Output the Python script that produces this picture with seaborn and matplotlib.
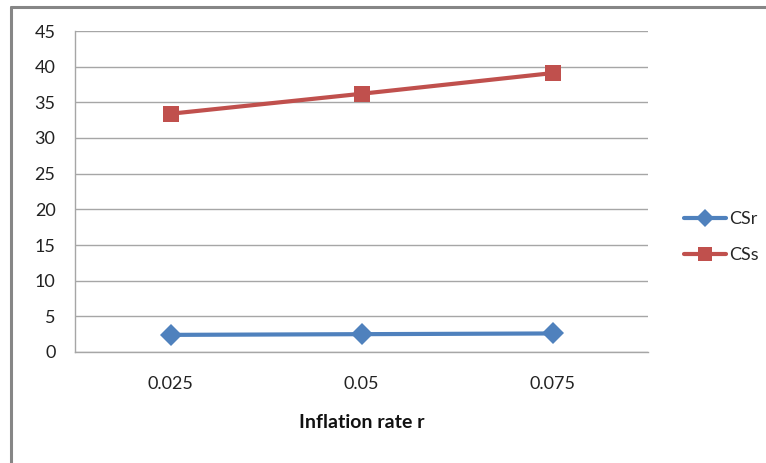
import matplotlib
matplotlib.use("Agg")
import matplotlib.pyplot as plt
from matplotlib.lines import Line2D
import seaborn as sns
import pandas as pd

# Inflation rate categories and the two cost series
rates = ["0.025", "0.05", "0.075"]
csr = [2.4, 2.5, 2.6]
css = [33.4, 36.2, 39.1]
series_names = ["CSr", "CSs"]
y_ticks = [0, 5, 10, 15, 20, 25, 30, 35, 40, 45]

df = pd.DataFrame({
    "pos": list(range(len(rates))) * 2,
    "value": csr + css,
    "series": [series_names[0]] * len(rates) + [series_names[1]] * len(rates),
})

sns.set_style("white")
plt.rcParams["font.family"] = ["Lato", "DejaVu Sans"]

W, H = 766, 463
fig = plt.figure(figsize=(W / 100, H / 100), dpi=100)
ax = fig.add_axes([75 / W, 1 - 352 / H, (648 - 75) / W, (352 - 31) / H])

blue = "#4F81BD"
red = "#C0504D"
grid_c = "#A6A6A6"
text_c = "#222222"

sns.lineplot(data=df, x="pos", y="value", hue="series", style="series",
             markers={"CSr": "D", "CSs": "s"}, dashes=False,
             palette={"CSr": blue, "CSs": red}, markersize=11,
             markeredgewidth=0, linewidth=3, ax=ax, legend=False, zorder=3)

ax.set_xlim(-0.5, len(rates) - 0.5)
ax.set_ylim(0, 45)
ax.set_yticks(y_ticks)
ax.set_yticklabels([str(v) for v in y_ticks], fontsize=13, color=text_c)
ax.set_xticks(range(len(rates)))
ax.set_xticklabels(rates, fontsize=13, color=text_c)
ax.set_xticks([i - 0.5 for i in range(len(rates) + 1)], minor=True)
ax.tick_params(axis="x", which="major", length=0, pad=17)
ax.tick_params(axis="x", which="minor", length=5, width=1, color=grid_c, direction="out")
ax.tick_params(axis="y", length=5, width=1, color=grid_c, direction="out", pad=9)
ax.yaxis.grid(True, color=grid_c, linewidth=1)
ax.set_axisbelow(True)
for s in ["top", "right"]:
    ax.spines[s].set_visible(False)
for s in ["left", "bottom"]:
    ax.spines[s].set_color(grid_c)
    ax.spines[s].set_linewidth(1)
ax.set_ylabel("")
ax.set_xlabel("Inflation rate r", fontsize=14, fontweight="bold", labelpad=16, color="#111111")

handles = [
    Line2D([], [], color=blue, marker="D", markersize=9, markeredgewidth=0, linewidth=3),
    Line2D([], [], color=red, marker="s", markersize=10, markeredgewidth=0, linewidth=3),
]
fig.legend(handles, series_names, loc="center left", bbox_to_anchor=(668 / W, 1 - 237 / H),
           frameon=False, fontsize=13, handlelength=2.3, handletextpad=0.2,
           labelspacing=1.1)

# outer chart frame (top and left edges visible)
frame_c = "#868686"
fig.add_artist(Line2D([10.5 / W, 1.01], [1 - 6.5 / H, 1 - 6.5 / H], color=frame_c, linewidth=2.2,
                      transform=fig.transFigure))
fig.add_artist(Line2D([10.5 / W, 10.5 / W], [-0.01, 1 - 6.5 / H], color=frame_c, linewidth=2.2,
                      transform=fig.transFigure))

fig.savefig("out.png", dpi=100)
